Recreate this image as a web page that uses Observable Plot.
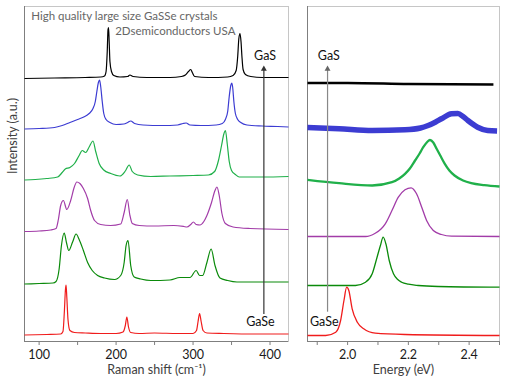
<!DOCTYPE html>
<html><head><meta charset="utf-8">
<script src="https://cdn.jsdelivr.net/npm/d3@7"></script>
<script src="https://cdn.jsdelivr.net/npm/@observablehq/plot@0.6"></script>
<style>
body{margin:0;background:#fff;}
#chart{position:relative;width:511px;height:391px;overflow:hidden;font-family:Lato,sans-serif;background:#fff;}
#chart svg{position:absolute;top:0;}
</style></head><body><div id="chart"></div>
<script>
// ---------- axis ranges & ticks ----------
const ramanDomain = [81, 424];
const energyDomain = [1.868, 2.5];
const intensityDomain = [0, 335];
const ramanTicks = [100, 150, 200, 250, 300, 350, 400];
const ramanTickLabels = [100, 200, 300, 400];
const energyTicks = [1.9, 2.0, 2.1, 2.2, 2.3, 2.4, 2.5];
const energyTickLabels = [2.0, 2.2, 2.4];

// ---------- Raman spectra (cm^-1, offset intensity a.u.), top (GaS) to bottom (GaSe) ----------
const raman1 = [[81,263],[120,263.5],[160,264],[180,264.5],[185,265.5],[187,270],[188.5,290],[189.5,312],[190.2,314],[191,300],[192,280],[194,270],[197,266],[205,264.5],[215,265],[218,266.5],[222,265],[240,264],[270,264],[285,265],[290,266.5],[294,270],[297,272],[299,269],[302,265],[320,264],[345,264.5],[352,266],[356,271],[358,285],[359.5,303],[361,308],[362.3,300],[363.5,285],[365,272],[368,267],[375,265],[390,264],[410,264],[424,264]];
const raman2 = [[81,212.5],[100,213],[120,214],[130,216],[140,219],[150,222],[158,224.5],[165,228],[170,233],[173,240],[175,250],[177,259],[178.5,261.5],[180,255],[182,240],[184,228],[187,222],[192,219],[200,217],[210,217.5],[215,219],[219,220.5],[224,218],[235,216.5],[260,216],[280,216.5],[287,218],[291,218.5],[296,216.5],[310,216],[330,216.5],[338,218],[342,222],[345,230],[347,245],[349,256],[350.3,258.5],[351.5,254],[353,240],[355,228],[358,222],[362,219],[370,216.5],[390,215.5],[410,215],[424,214.5]];
const raman3 = [[81,161.5],[95,162],[110,163],[124,164.5],[130,169],[134,172.5],[140,174],[146,178],[152,186],[156,191],[160.5,189],[165,194.5],[170,200.5],[173.5,190],[178,178],[184,171.5],[193,168],[205,165.5],[212,170.5],[217,176.5],[221,170],[228,166.5],[245,165],[270,165.5],[300,166],[320,166.5],[328,170],[333,181],[337,196],[340,207.5],[342,211],[344.5,197],[347,180],[350,171],[355,167],[360,164.5],[390,164.5],[424,165]];
const raman4 = [[81,110],[100,110.5],[115,111.5],[122,113],[125,122],[128,136],[131.5,141],[136,132],[141,141],[145.5,154],[149,159.5],[153,158],[157.5,153],[163,143],[167,131],[172,121],[180,117],[193,116],[206,117.5],[210.5,129],[214.5,142],[218,126],[221,118],[230,116],[250,115.5],[275,116],[288,115],[292,114.5],[297,117],[300.5,119.5],[304,117],[309,116.5],[314,120],[318,126],[324,139],[328.5,151],[331,154.5],[334,146],[337.5,128],[342,118],[352,114.5],[374,113],[424,112]];
const raman5 = [[81,57.5],[100,58],[118,58.5],[122,60],[126,72.5],[129,96],[132.6,108.5],[135.5,99],[138.5,91],[143.5,99.5],[148,107.5],[152,102],[157.5,91],[163,79],[169,71],[176,66],[185,63.5],[198,62],[206,66],[210.5,79],[213,96],[215.5,101],[219,76],[223.5,64.5],[232,62.5],[245,61],[270,61.5],[283,64],[296,64],[304,71],[308.5,66],[312.5,66],[318,79],[323.5,92.5],[328.5,76],[335,63.5],[345,61],[357,59.5],[380,59.5],[424,59.5]];
const raman6 = [[81,6.5],[110,7],[128,7.5],[131,10],[132.8,30],[134.2,52],[135,56.5],[136,44],[137.5,22],[140,11],[146,9],[160,8.5],[180,8],[200,8],[209,9.5],[212,16],[214,24.5],[216,15],[219,9],[230,8],[250,8.5],[280,8],[300,8],[304.5,11],[306.5,20],[308.5,28],[310.5,20],[313,11],[318,8.5],[340,8],[380,7.5],[424,7.5]];

// ---------- PL spectra (eV, offset intensity a.u.), top (GaS) to bottom (GaSe) ----------
const pl1 = [[1.868,258.5],[2.0,258.5],[2.2,257.5],[2.48,257]];
const pl2 = [[1.868,214],[1.972,212.7],[2.081,211],[2.189,211.7],[2.24,213.5],[2.265,216],[2.29,219.5],[2.309,222.7],[2.342,227.7],[2.363,228],[2.38,225],[2.396,221],[2.428,214.3],[2.461,211],[2.492,210.5]];
const pl3 = [[1.868,161.7],[1.972,158.3],[2.081,156],[2.146,159.3],[2.17,163],[2.189,167.7],[2.205,173],[2.222,181],[2.237,188],[2.249,194.3],[2.262,199.5],[2.271,201.5],[2.282,199],[2.293,192.7],[2.305,186],[2.32,177.7],[2.335,171],[2.352,166],[2.38,161],[2.407,158.3],[2.45,156.3],[2.5,155]];
const pl4 = [[1.868,105],[2.0,105],[2.059,105],[2.091,108.3],[2.11,112.5],[2.124,117.7],[2.146,131],[2.167,144.3],[2.189,151.7],[2.209,153.7],[2.227,147.7],[2.244,134.3],[2.26,121],[2.282,111],[2.309,107],[2.342,105.3],[2.5,105]];
const pl5 = [[1.868,56],[2.026,56],[2.059,59.3],[2.081,67.7],[2.097,84.3],[2.108,96],[2.117,104.3],[2.126,97.7],[2.137,81],[2.151,67.7],[2.165,62],[2.178,59.3],[2.2,57.3],[2.233,56],[2.298,55],[2.5,54.3]];
const pl6 = [[1.868,6],[1.928,6],[1.961,9.3],[1.977,21],[1.988,41],[1.997,54.3],[2.004,51],[2.015,32.7],[2.032,19.3],[2.053,12.7],[2.091,8.3],[2.189,7],[2.5,6]];

// ---------- annotations ----------
const ramanArrow = [{x: 392, y1: 27, y2: 272.5}];
const plArrow = [{x: 1.934, y1: 29.3, y2: 272.5}];
const ramanLabels = [{x: 393.5, y: 286, text: "GaS"}, {x: 387.5, y: 19.5, text: "GaSe"}];
const plLabels = [{x: 1.938, y: 286, text: "GaS"}, {x: 1.923, y: 19.5, text: "GaSe"}];
const headerLines = [{x: 89.7, y: 325, text: "High quality large size GaSSe crystals"}, {x: 198.8, y: 310.3, text: "2Dsemiconductors USA"}];
const ramanTitle = "Raman shift (cm\u207B\u00B9)";
const energyTitle = "Energy (eV)";
const intensityTitle = "Intensity (a.u.)";

// ---------- styles ----------
const traceColors = ["#000000", "#3c3cd2", "#20b04a", "#a23ca8", "#0a8a0a", "#f01c1c"];
const plWidths = [2.6, 5.5, 2.3, 1.3, 1.3, 1.3];

const ramanSeries = [raman1, raman2, raman3, raman4, raman5, raman6];
const plSeries = [pl1, pl2, pl3, pl4, pl5, pl6];

const baseStyle = {fontFamily: "Lato, sans-serif", fontSize: "12px", color: "#1a1a1a", background: "transparent", overflow: "visible"};

const left = Plot.plot({
  width: 290, height: 391,
  marginLeft: 24, marginRight: 2, marginTop: 6, marginBottom: 50,
  style: baseStyle,
  x: {domain: ramanDomain, label: null},
  y: {domain: intensityDomain, axis: null},
  marks: [
    Plot.frame({stroke: "#c6c6c6"}),
    Plot.ruleX([ramanDomain[0]], {stroke: "#7f7f7f"}),
    Plot.ruleY([intensityDomain[0]], {stroke: "#7f7f7f"}),
    Plot.axisX({ticks: ramanTicks, tickSize: 4, tickPadding: 5, stroke: "#7f7f7f", fill: "#1a1a1a", fontSize: 12.5, label: null,
      tickFormat: d => ramanTickLabels.includes(d) ? String(d) : ""}),
    ...ramanSeries.map((pts, i) => Plot.line(pts, {x: d => d[0], y: d => d[1], stroke: traceColors[i], strokeWidth: 1.2, curve: "monotone-x", strokeLinecap: "butt"})),
    Plot.ruleX(ramanArrow, {x: "x", y1: "y1", y2: "y2", stroke: "#333", strokeWidth: 1.2}),
    Plot.dot(ramanArrow, {x: "x", y: "y2", symbol: "triangle", r: 2.2, fill: "#333", stroke: null}),
    Plot.text(ramanLabels, {x: "x", y: "y", text: "text", fontSize: 12.5, fill: "#111"}),
    Plot.text(headerLines, {x: "x", y: "y", text: "text", textAnchor: "start", fontSize: 11.5, fill: "#666"}),
    Plot.text([ramanTitle], {frameAnchor: "bottom", dy: 32, text: d => d, fontSize: 12.5, fill: "#404040"}),
    Plot.text([intensityTitle], {frameAnchor: "left", dx: -12, rotate: -90, text: d => d, fontSize: 12.5, fill: "#404040"})
  ]
});

const right = Plot.plot({
  width: 211, height: 391,
  marginLeft: 7, marginRight: 12, marginTop: 6, marginBottom: 50,
  style: baseStyle,
  x: {domain: energyDomain, label: null},
  y: {domain: intensityDomain, axis: null},
  marks: [
    Plot.frame({stroke: "#c6c6c6"}),
    Plot.ruleX([energyDomain[0]], {stroke: "#7f7f7f"}),
    Plot.ruleY([intensityDomain[0]], {stroke: "#7f7f7f"}),
    Plot.axisX({ticks: energyTicks, tickSize: 4, tickPadding: 5, stroke: "#7f7f7f", fill: "#1a1a1a", fontSize: 12.5, label: null,
      tickFormat: d => energyTickLabels.some(v => Math.abs(v - d) < 1e-9) ? d.toFixed(1) : ""}),
    ...plSeries.map((pts, i) => Plot.line(pts, {x: d => d[0], y: d => d[1], stroke: traceColors[i], strokeWidth: plWidths[i], curve: "monotone-x", strokeLinecap: "butt"})),
    Plot.ruleX(plArrow, {x: "x", y1: "y1", y2: "y2", stroke: "#888", strokeWidth: 1.2}),
    Plot.dot(plArrow, {x: "x", y: "y2", symbol: "triangle", r: 2.2, fill: "#666", stroke: null}),
    Plot.text(plLabels, {x: "x", y: "y", text: "text", fontSize: 12.5, fill: "#111"}),
    Plot.text([energyTitle], {frameAnchor: "bottom", dy: 32, text: d => d, fontSize: 12.5, fill: "#404040"})
  ]
});

left.style.left = "0px";
right.style.left = "300px";
const chart = document.getElementById("chart");
chart.appendChild(left);
chart.appendChild(right);
</script>
</body></html>
